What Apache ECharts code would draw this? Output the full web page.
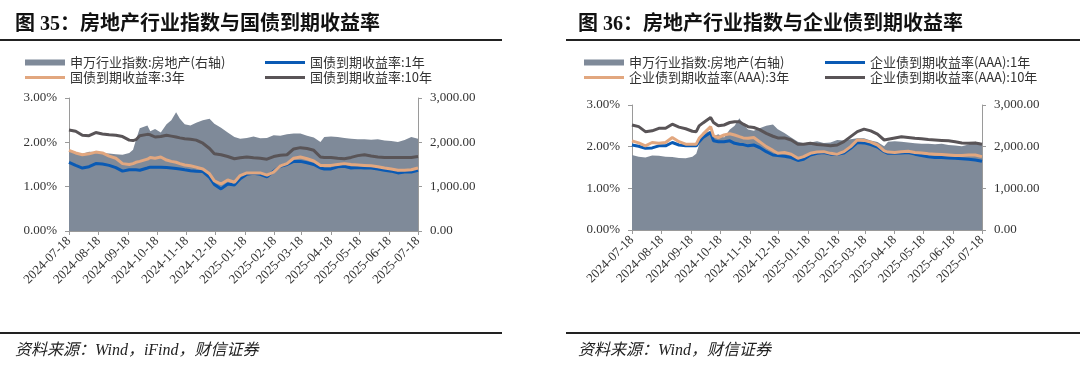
<!DOCTYPE html>
<html><head><meta charset="utf-8">
<script src="https://cdn.jsdelivr.net/npm/echarts@6/dist/echarts.min.js"></script>
<style>html,body{margin:0;padding:0;background:#fff;}#wrap{width:1080px;height:372px;display:flex;}.c{width:540px;height:372px;}</style>
</head><body><div id="wrap"><div id="c1" class="c"></div><div id="c2" class="c"></div></div>
<script>
// ---- data ----
const sampleDates = ['2024-07-18','2024-07-25','2024-08-01','2024-08-08','2024-08-15','2024-08-22','2024-08-29','2024-09-05','2024-09-12','2024-09-19',
'2024-09-23','2024-09-26','2024-09-30','2024-10-08','2024-10-11','2024-10-16','2024-10-22','2024-10-28','2024-11-02','2024-11-07',
'2024-11-11','2024-11-16','2024-11-22','2024-11-28','2024-12-05','2024-12-12','2024-12-17','2024-12-24','2024-12-31','2025-01-07',
'2025-01-13','2025-01-20','2025-01-27','2025-02-03','2025-02-10','2025-02-17','2025-02-24','2025-03-03','2025-03-10','2025-03-17',
'2025-03-24','2025-03-31','2025-04-07','2025-04-11','2025-04-18','2025-04-25','2025-05-02','2025-05-09','2025-05-16','2025-05-23',
'2025-05-30','2025-06-06','2025-06-13','2025-06-20','2025-06-27','2025-07-04','2025-07-11','2025-07-18'];
const tickDates = ['2024-07-18','2024-08-18','2024-09-18','2024-10-18','2024-11-18','2024-12-18','2025-01-18','2025-02-18','2025-03-18','2025-04-18','2025-05-18','2025-06-18','2025-07-18'];
const realEstateIndex = [1800,1760,1740,1790,1780,1760,1750,1730,1720,1760,
1830,2050,2320,2380,2250,2300,2220,2410,2500,2680,
2530,2410,2380,2440,2500,2530,2420,2330,2220,2120,
2080,2100,2130,2090,2100,2160,2150,2180,2200,2200,
2150,2110,2010,2120,2130,2120,2100,2080,2070,2070,
2060,2070,2040,2030,2010,2050,2120,2080];
const govt1Y = [1.55,1.48,1.42,1.45,1.52,1.51,1.48,1.43,1.35,1.38,
1.38,1.38,1.37,1.42,1.44,1.44,1.44,1.43,1.42,1.41,
1.40,1.38,1.36,1.35,1.34,1.21,1.05,0.95,1.06,1.04,
1.18,1.28,1.30,1.28,1.22,1.35,1.46,1.50,1.57,1.57,
1.54,1.50,1.42,1.40,1.40,1.45,1.46,1.42,1.43,1.42,
1.42,1.40,1.37,1.35,1.31,1.33,1.33,1.37];
const govt3Y = [1.82,1.76,1.72,1.74,1.78,1.76,1.69,1.64,1.52,1.50,
1.52,1.55,1.57,1.62,1.66,1.64,1.67,1.60,1.57,1.55,
1.52,1.49,1.47,1.44,1.40,1.29,1.13,1.06,1.15,1.10,
1.25,1.31,1.31,1.31,1.26,1.33,1.47,1.52,1.64,1.67,
1.63,1.58,1.48,1.48,1.48,1.50,1.52,1.50,1.49,1.48,
1.47,1.45,1.42,1.40,1.37,1.37,1.38,1.42];
const govt10Y = [2.28,2.25,2.16,2.15,2.22,2.19,2.17,2.16,2.13,2.05,
2.04,2.06,2.15,2.18,2.17,2.12,2.13,2.16,2.14,2.12,
2.10,2.08,2.07,2.05,1.98,1.86,1.74,1.72,1.68,1.63,
1.65,1.67,1.65,1.64,1.62,1.68,1.71,1.72,1.85,1.88,
1.86,1.82,1.67,1.66,1.66,1.64,1.63,1.66,1.70,1.72,
1.69,1.67,1.66,1.66,1.66,1.66,1.66,1.68];
const aaa1Y = [2.04,2.01,1.96,1.97,2.02,2.02,2.10,2.04,2.02,2.02,
2.02,2.12,2.22,2.34,2.14,2.12,2.12,2.14,2.08,2.06,
2.05,2.02,2.04,1.98,1.88,1.80,1.79,1.77,1.74,1.67,
1.70,1.80,1.84,1.86,1.82,1.82,1.85,1.96,2.10,2.09,
2.05,1.99,1.88,1.84,1.84,1.85,1.86,1.82,1.79,1.76,
1.74,1.74,1.73,1.72,1.71,1.70,1.68,1.65];
const aaa3Y = [2.14,2.09,2.02,2.10,2.08,2.10,2.22,2.12,2.06,2.06,
2.06,2.20,2.30,2.48,2.26,2.22,2.28,2.31,2.28,2.24,
2.21,2.20,2.22,2.12,2.00,1.91,1.84,1.86,1.82,1.72,
1.76,1.84,1.87,1.88,1.84,1.82,1.88,2.00,2.16,2.15,
2.11,2.04,1.90,1.87,1.86,1.88,1.89,1.86,1.85,1.83,
1.82,1.81,1.80,1.79,1.79,1.80,1.80,1.76];
const aaa10Y = [2.52,2.48,2.36,2.38,2.44,2.44,2.54,2.47,2.43,2.37,
2.36,2.50,2.57,2.70,2.58,2.50,2.52,2.58,2.60,2.60,
2.54,2.48,2.46,2.41,2.32,2.25,2.21,2.21,2.16,2.06,
2.06,2.08,2.05,2.04,2.02,2.04,2.12,2.24,2.36,2.42,
2.38,2.30,2.16,2.18,2.21,2.24,2.22,2.20,2.19,2.17,
2.16,2.15,2.14,2.12,2.09,2.08,2.09,2.06];

// ---- styling ----
const AREA = '#7f8a99', BLUE = '#0a5ab4', ORANGE = '#e2a77f', DARK = '#595457';
const AXIS = '#9a9a9a', TXT = '#333';
const SERIF = '"Liberation Serif","Noto Sans CJK SC"';
const CJK = '"Noto Sans CJK SC"';
const toTs = s => { const p = s.split('-').map(Number); return Date.UTC(p[0], p[1] - 1, p[2]); };
const pairs = vals => sampleDates.map((d, i) => [toTs(d), vals[i]]);
const fmtDate = v => { const d = new Date(v); const p = n => (n < 10 ? '0' : '') + n; return d.getUTCFullYear() + '-' + p(d.getUTCMonth() + 1) + '-' + p(d.getUTCDate()); };
const tickTs = tickDates.map(toTs);

function makeOption(c) {
  const legendItem = (name, left, top, h) => ({
    data: [name], left: left, top: top, icon: 'rect', itemWidth: 40, itemHeight: h,
    padding: 0, selectedMode: false,
    textStyle: { fontFamily: CJK, fontSize: 13, color: TXT }
  });
  const lineSeries = (name, vals, color, z) => ({
    name: name, type: 'line', data: pairs(vals), showSymbol: false, color: color,
    lineStyle: { width: 3, color: color }, z: z, yAxisIndex: 0
  });
  return {
    animation: false,
    graphic: [
      { type: 'text', left: c.titleX, top: 15, style: { text: c.title, font: 'bold 20px ' + SERIF, fill: '#111' } },
      { type: 'line', shape: { x1: c.lineX1, y1: 40, x2: c.lineX2, y2: 40 }, style: { stroke: '#222', lineWidth: 2 } },
      { type: 'line', shape: { x1: c.lineX1, y1: 333, x2: c.lineX2, y2: 333 }, style: { stroke: '#222', lineWidth: 2 } },
      { type: 'text', left: c.titleX, top: 343, style: { text: c.source, font: 'italic 16px ' + SERIF, fill: '#222' } }
    ],
    legend: [
      legendItem(c.names[0], c.leg1, 56, 6),
      legendItem(c.names[1], c.leg2, 56, 3),
      legendItem(c.names[2], c.leg1, 71, 3),
      legendItem(c.names[3], c.leg2, 71, 3)
    ],
    grid: { left: c.gl, right: c.gr, top: c.gt, height: c.gh },
    xAxis: {
      type: 'value', min: tickTs[0], max: tickTs[tickTs.length - 1], splitLine: { show: false },
      axisLine: { lineStyle: { color: AXIS } },
      axisTick: { show: true, length: 4, customValues: tickTs, lineStyle: { color: AXIS } },
      axisLabel: { customValues: tickTs, rotate: 45, formatter: fmtDate, fontFamily: SERIF, fontSize: 13, color: TXT, margin: 8, hideOverlap: false }
    },
    yAxis: [
      { type: 'value', min: 0, max: 3, interval: 1, position: 'left',
        axisLine: { show: true, lineStyle: { color: AXIS } }, axisTick: { show: true, length: 4, lineStyle: { color: AXIS } },
        splitLine: { show: false },
        axisLabel: { formatter: v => v.toFixed(2) + '%', fontFamily: SERIF, fontSize: 13, color: TXT, margin: 12 } },
      { type: 'value', min: 0, max: 3000, interval: 1000, position: 'right',
        axisLine: { show: true, lineStyle: { color: AXIS } }, axisTick: { show: true, length: 4, lineStyle: { color: AXIS } },
        splitLine: { show: false },
        axisLabel: { formatter: v => v.toLocaleString('en-US', { minimumFractionDigits: 2, maximumFractionDigits: 2 }), fontFamily: SERIF, fontSize: 13, color: TXT, margin: 12 } }
    ],
    series: [
      { name: c.names[0], type: 'line', yAxisIndex: 1, data: pairs(realEstateIndex), showSymbol: false, color: AREA,
        lineStyle: { width: 0, color: AREA }, areaStyle: { color: AREA, opacity: 1 }, z: 1 },
      lineSeries(c.names[1], c.s1, BLUE, 2),
      lineSeries(c.names[2], c.s3, ORANGE, 3),
      lineSeries(c.names[3], c.s10, DARK, 4)
    ]
  };
}

const chart1 = echarts.init(document.getElementById('c1'), null, { renderer: 'canvas' });
chart1.setOption(makeOption({
  title: '图 35：房地产行业指数与国债到期收益率', source: '资料来源：Wind，iFind，财信证券',
  titleX: 15, lineX1: 0, lineX2: 502, leg1: 25, leg2: 265,
  gl: 69, gr: 122, gt: 98, gh: 133,
  names: ['申万行业指数:房地产(右轴)', '国债到期收益率:1年', '国债到期收益率:3年', '国债到期收益率:10年'],
  s1: govt1Y, s3: govt3Y, s10: govt10Y
}));
const chart2 = echarts.init(document.getElementById('c2'), null, { renderer: 'canvas' });
chart2.setOption(makeOption({
  title: '图 36：房地产行业指数与企业债到期收益率', source: '资料来源：Wind，财信证券',
  titleX: 38, lineX1: 26, lineX2: 540, leg1: 44, leg2: 285,
  gl: 92, gr: 98, gt: 105, gh: 125,
  names: ['申万行业指数:房地产(右轴)', '企业债到期收益率(AAA):1年', '企业债到期收益率(AAA):3年', '企业债到期收益率(AAA):10年'],
  s1: aaa1Y, s3: aaa3Y, s10: aaa10Y
}));
</script></body></html>
